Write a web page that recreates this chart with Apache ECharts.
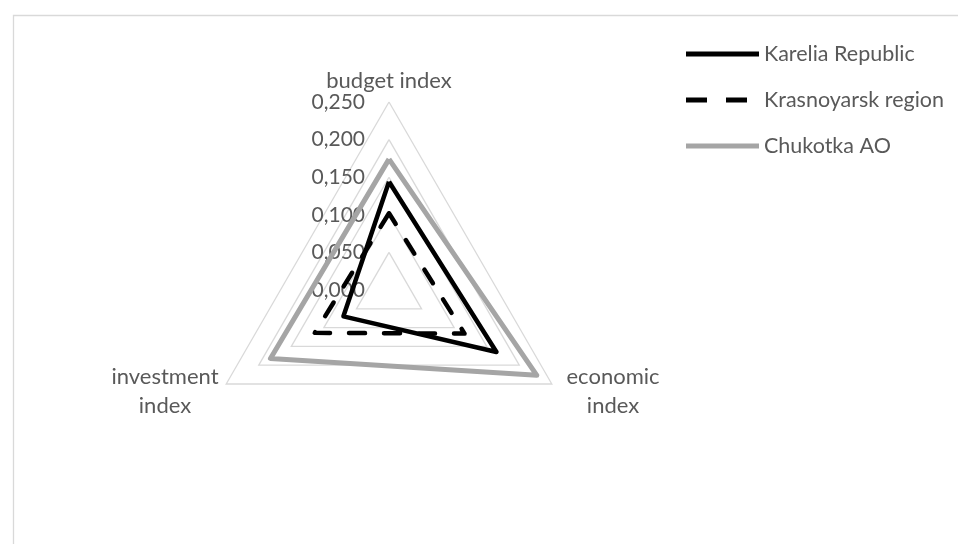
<!DOCTYPE html>
<html><head><meta charset="utf-8">
<script src="https://cdn.jsdelivr.net/npm/echarts@6/dist/echarts.min.js"></script>
<style>html,body{margin:0;padding:0;background:#fff}#c{width:958px;height:544px}</style>
</head><body><div id="c"></div>
<script>
// Data (natural Excel order: budget, economic, investment)
const indicators = ['budget index', 'economic index', 'investment index'];
const indicatorLabels = ['budget index', 'economic\nindex', 'investment\nindex'];
const seriesNames = ['Karelia Republic', 'Krasnoyarsk region', 'Chukotka AO'];
const karelia = [0.144, 0.165, 0.070];
const krasnoyarsk = [0.102, 0.116, 0.114];
const chukotka = [0.174, 0.227, 0.182];
const tickLabels = ['0,000', '0,050', '0,100', '0,150', '0,200', '0,250'];
const axisMin = 0, axisMax = 0.25, tickStep = 0.05;

// ECharts draws indicators counter-clockwise; Excel clockwise -> reorder
const order = [0, 2, 1];
const reorder = arr => order.map(i => arr[i]);

const FONT = 'Lato, "Open Sans", sans-serif';
const TXT = '#595959';

const chart = echarts.init(document.getElementById('c'), null, {renderer: 'canvas'});
const dashIcon = 'path://M0,0h21v5h-21z M40,0h21v5h-21z M73,0L73,5';
const solidIcon = 'path://M0,0h73v5h-73z';

chart.setOption({
  animation: false,
  backgroundColor: '#fff',
  graphic: [{
    type: 'rect', left: 11, top: 13, z: -10,
    shape: {width: 980, height: 560},
    style: {fill: 'none', stroke: '#D9D9D9', lineWidth: 1.3}
  }],
  legend: {
    orient: 'vertical', left: 681, top: 38,
    itemWidth: 73, itemHeight: 5, itemGap: 24,
    textStyle: {color: TXT, fontSize: 21.5, fontFamily: FONT},
    data: [
      {name: seriesNames[0], icon: solidIcon},
      {name: seriesNames[1], icon: dashIcon},
      {name: seriesNames[2], icon: solidIcon}
    ]
  },
  radar: {
    center: [389, 290],
    radius: 188,
    shape: 'polygon',
    startAngle: 90,
    splitNumber: 5,
    axisNameGap: 6,
    axisName: {
      color: TXT, fontSize: 22, fontFamily: FONT,
      padding: [8, 0, 0, 0],
      formatter: function (name) {
        const lbl = indicatorLabels[indicators.indexOf(name)];
        return lbl.split('\n').map(s => '{a|' + s + '}').join('\n');
      },
      rich: {a: {width: 112, align: 'center', fontSize: 22, fontFamily: FONT, color: TXT, lineHeight: 29}}
    },
    axisLine: {show: false},
    axisTick: {show: false},
    splitArea: {show: false},
    splitLine: {lineStyle: {color: '#D9D9D9', width: 1.3}},
    axisLabel: {show: false},
    indicator: reorder(indicators).map((name, k) => ({
      name: name, min: axisMin, max: axisMax,
      axisLabel: k === 0 ? {
        show: true, margin: 24, color: TXT, fontSize: 21, fontFamily: FONT,
        padding: [6, 0, 0, 0],
        formatter: v => tickLabels[Math.round((v - axisMin) / tickStep)]
      } : {show: false}
    }))
  },
  series: [
    {
      name: seriesNames[0], type: 'radar', symbol: 'none', z: 3,
      itemStyle: {color: '#000000'},
      lineStyle: {color: '#000000', width: 4.5},
      data: [{value: reorder(karelia), name: seriesNames[0]}]
    },
    {
      name: seriesNames[1], type: 'radar', symbol: 'none', z: 4,
      itemStyle: {color: '#000000'},
      lineStyle: {color: '#000000', width: 4.5, type: [16, 19], cap: 'round'},
      data: [{value: reorder(krasnoyarsk), name: seriesNames[1]}]
    },
    {
      name: seriesNames[2], type: 'radar', symbol: 'none', z: 2,
      itemStyle: {color: '#A5A5A5'},
      lineStyle: {color: '#A5A5A5', width: 5},
      data: [{value: reorder(chukotka), name: seriesNames[2]}]
    }
  ]
});
</script></body></html>
